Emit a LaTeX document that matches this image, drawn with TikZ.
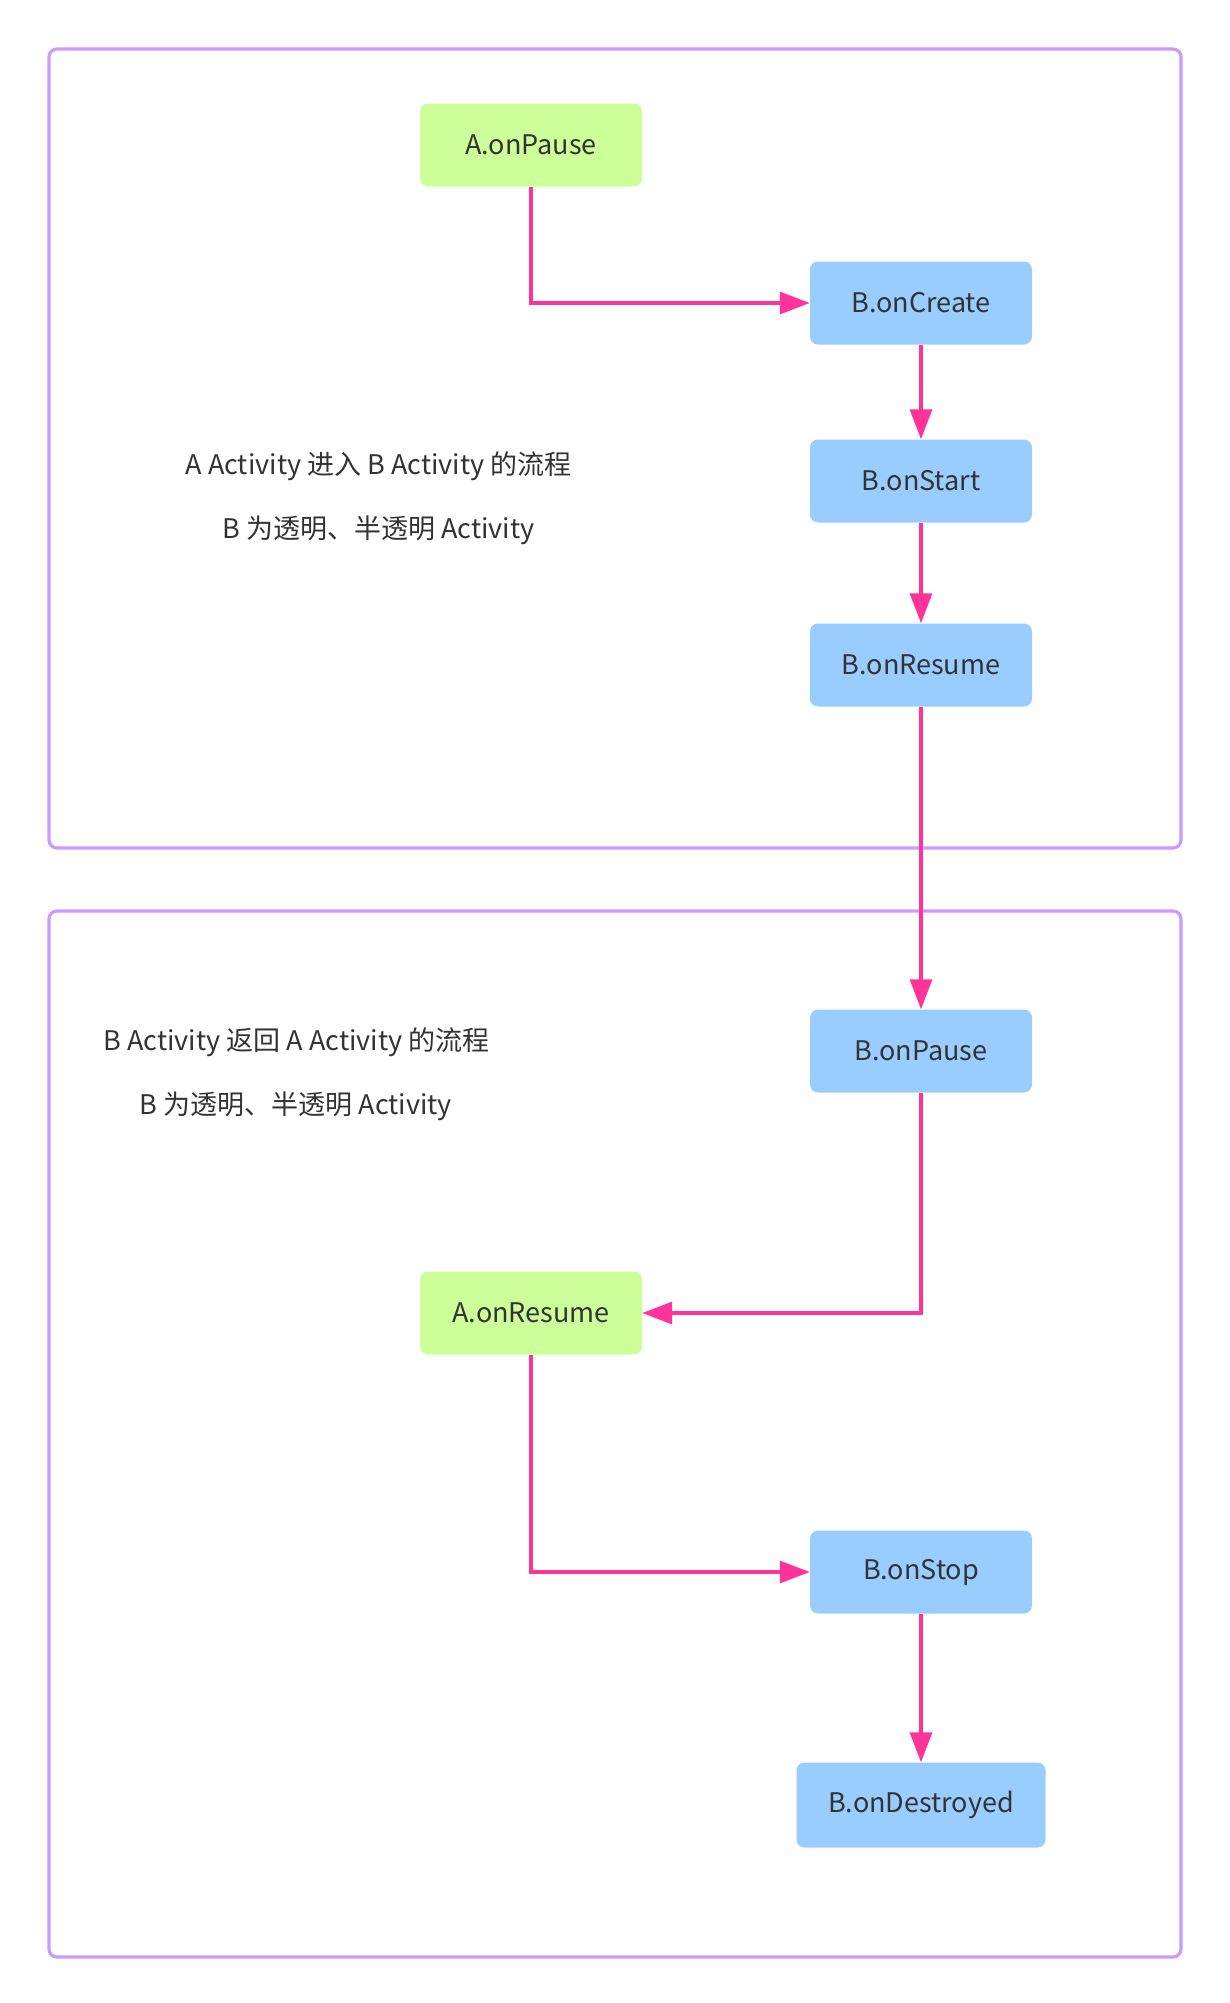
\documentclass[tikz,border=0pt]{standalone}
\usepackage{fontspec}
\setmainfont{Noto Sans CJK SC}
\usetikzlibrary{arrows.meta}

\definecolor{boxgreen}{HTML}{CCFF99}
\definecolor{boxblue}{HTML}{99CCFF}
\definecolor{flowpink}{HTML}{FF3399}
\definecolor{framepurple}{HTML}{CC99FF}
\definecolor{textgray}{HTML}{333333}

\begin{document}
\begin{tikzpicture}[x=1pt, y=-1pt,
  stateA/.style={rectangle, rounded corners=8pt, fill=boxgreen, text=textgray,
                 minimum width=222pt, minimum height=83pt, font=\fontsize{27}{32}\selectfont},
  stateB/.style={stateA, fill=boxblue},
  flow/.style={draw=flowpink, line width=3.2pt, -{Triangle[length=30pt, width=22pt]}},
  frame/.style={draw=framepurple, line width=3.2pt, rounded corners=8pt},
  note/.style={text=textgray, font=\fontsize{27}{32}\selectfont}]

\useasboundingbox (0,0) rectangle (1230,2003);

% 两个外框
\draw [frame] (49, 49) rectangle (1181, 848);
\draw [frame] (49,911) rectangle (1181,1957);

% A 进入 B
\node [stateA] (aPause)  at (531, 145) {A.onPause};
\node [stateB] (bCreate) at (921, 303) {B.onCreate};
\node [stateB] (bStart)  at (921, 481) {B.onStart};
\node [stateB] (bResume) at (921, 665) {B.onResume};

\node [note] (title1) at (378.5, 466) {A Activity 进入 B Activity 的流程};
\node [note] (sub1)   at (378.5, 530) {B 为透明、半透明 Activity};

% B 返回 A
\node [stateB] (bPause)   at (921, 1051) {B.onPause};
\node [stateA] (aResume)  at (531, 1313) {A.onResume};
\node [stateB] (bStop)    at (921, 1572) {B.onStop};
\node [stateB, minimum width=249pt, minimum height=85pt] (bDestroy) at (921, 1805) {B.onDestroyed};

\node [note] (title2) at (296.5, 1042) {B Activity 返回 A Activity 的流程};
\node [note] (sub2)   at (296  , 1106) {B 为透明、半透明 Activity};

% 流程箭头
\draw [flow] (aPause.south)  |- (bCreate.west);
\draw [flow] (bCreate) -- (bStart);
\draw [flow] (bStart)  -- (bResume);
\draw [flow] (bResume) -- (bPause);
\draw [flow] (bPause.south)  |- (aResume.east);
\draw [flow] (aResume.south) |- (bStop.west);
\draw [flow] (bStop)   -- (bDestroy);

\end{tikzpicture}
\end{document}
